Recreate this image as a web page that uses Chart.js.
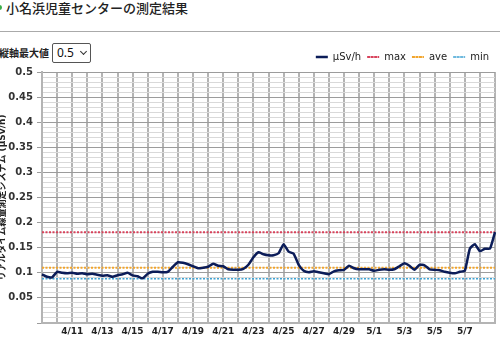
<!DOCTYPE html>
<html lang="ja">
<head>
<meta charset="utf-8">
<script src="https://cdn.jsdelivr.net/npm/chart.js@4"></script>
<style>
  body { margin: 0; width: 500px; height: 340px; overflow: hidden; background: #fff; position: relative;
         font-family: 'Noto Sans CJK JP', 'DejaVu Sans', sans-serif; color: #222; }
  .dot { position: absolute; left: -3px; top: 5px; width: 5px; height: 5px; border-radius: 50%; background: #3cae4a; }
  h1 { position: absolute; left: 6px; top: -2px; margin: 0; font-size: 13px; font-weight: 500; line-height: 20px; }
  .rule { position: absolute; left: 0; top: 31px; width: 500px; height: 1px; background: #aaa; }
  .lbl { position: absolute; left: -1px; top: 46px; font-size: 10px; font-weight: bold; line-height: 13px; }
  .sel { position: absolute; left: 52px; top: 43px; width: 37px; height: 18px; border: 1px solid #555; border-radius: 2px;
         font: 12px 'Noto Sans', sans-serif; line-height: 18px; color: #111; }
  .sel span { position: absolute; left: 4px; }
  .sel i { position: absolute; left: 28px; top: 5px; width: 4px; height: 4px; border-right: 1px solid #333;
           border-bottom: 1px solid #333; transform: rotate(45deg); }
  #wrap { position: absolute; left: -6px; top: 40px; width: 506px; height: 300px; }
</style>
</head>
<body>
<div class="dot"></div>
<h1>小名浜児童センターの測定結果</h1>
<div class="rule"></div>
<div class="lbl">縦軸最大値</div>
<div class="sel"><span>0.5</span><i></i></div>
<div id="wrap"><canvas id="chart"></canvas></div>
<script>
// dates and reading times (3 readings a day)
const days = ['4/9','4/10','4/11','4/12','4/13','4/14','4/15','4/16','4/17','4/18','4/19','4/20','4/21','4/22',
    '4/23','4/24','4/25','4/26','4/27','4/28','4/29','4/30','5/1','5/2','5/3','5/4','5/5','5/6','5/7','5/8','5/9'];
const hours = ['0時', '8時', '16時'];

// μSv/h readings
const dose = [0.097,0.092,0.091,0.102,0.100,0.099,0.100,0.098,0.099,0.097,
    0.098,0.096,0.094,0.095,0.092,0.095,0.097,0.100,0.095,0.093,
    0.089,0.098,0.102,0.102,0.101,0.102,0.112,0.121,0.120,0.117,
    0.113,0.109,0.110,0.112,0.118,0.114,0.113,0.107,0.106,0.106,
    0.108,0.116,0.131,0.141,0.137,0.135,0.135,0.139,0.157,0.142,
    0.138,0.116,0.104,0.101,0.103,0.101,0.099,0.097,0.103,0.105,
    0.106,0.114,0.109,0.107,0.107,0.107,0.104,0.106,0.107,0.106,
    0.107,0.113,0.119,0.114,0.106,0.116,0.115,0.107,0.106,0.105,
    0.102,0.100,0.099,0.102,0.104,0.148,0.157,0.143,0.148,0.148,
    0.181];

const maxValue = 0.181;
const aveValue = 0.110;
const minValue = 0.088;

const labels = [];
days.forEach(d => hours.forEach(h => labels.push(d + ' ' + h)));
labels.length = dose.length;

const flat = v => labels.map(() => v);

const tickFont = { family: "'DejaVu Sans', sans-serif", size: 10, weight: 'bold' };

new Chart(document.querySelector('#chart').getContext('2d'), {
    type: 'line',
    data: {
        labels: labels,
        datasets: [
            { label: 'μSv/h', data: dose, borderColor: '#0b1c58', backgroundColor: '#0b1c58', borderWidth: 2.5, pointRadius: 0, tension: 0.15 },
            { label: 'max', data: flat(maxValue), borderColor: '#d8435c', backgroundColor: 'rgba(0,0,0,0)', borderWidth: 2, borderDash: [2, 1.5], pointRadius: 0 },
            { label: 'ave', data: flat(aveValue), borderColor: '#f2a52c', backgroundColor: 'rgba(0,0,0,0)', borderWidth: 2, borderDash: [2, 1.5], pointRadius: 0 },
            { label: 'min', data: flat(minValue), borderColor: '#3fa3d3', backgroundColor: 'rgba(0,0,0,0)', borderWidth: 1.5, borderDash: [2, 1.5], pointRadius: 0 }
        ]
    },
    options: {
        responsive: true,
        maintainAspectRatio: false,
        animation: false,
        layout: { padding: { top: 6, right: 5, left: 0, bottom: 0 } },
        plugins: {
            tooltip: { enabled: false },
            legend: {
                position: 'top',
                align: 'end',
                labels: {
                    boxWidth: 12,
                    boxHeight: 0,
                    padding: 6,
                    color: '#222',
                    font: { family: "'DejaVu Sans', sans-serif", size: 10 }
                }
            }
        },
        scales: {
            x: {
                afterFit: s => { s.height = 17; },
                grid: {
                    drawTicks: false,
                    lineWidth: 2,
                    color: c => c.index % 3 === 0 ? '#b4b4b4' : 'rgba(0,0,0,0)'
                },
                border: { color: '#b4b4b4', width: 2 },
                ticks: {
                    autoSkip: false,
                    maxRotation: 0,
                    minRotation: 0,
                    padding: 3,
                    color: '#222',
                    font: { family: "'DejaVu Sans', sans-serif", size: 9, weight: 'bold' },
                    callback: function (v, i) {
                        if (i % 6 !== 0 || i === 0 || i >= 90) return '';
                        return this.getLabelForValue(v).split(' ')[0];
                    }
                }
            },
            y: {
                min: 0,
                max: 0.5,
                afterFit: s => { s.width = 48; },
                border: { color: '#b4b4b4', width: 2 },
                grid: {
                    tickLength: 5,
                    color: c => Math.round(c.tick.value * 100) % 5 === 0 ? '#9c9c9c' : '#d9d9d9',
                    tickColor: c => Math.round(c.tick.value * 100) % 5 === 0 ? '#9c9c9c' : 'rgba(0,0,0,0)'
                },
                ticks: {
                    stepSize: 0.01,
                    autoSkip: false,
                    padding: 4,
                    color: '#333',
                    font: tickFont,
                    callback: v => {
                        const n = Math.round(v * 100);
                        if (n === 0 || n % 5 !== 0) return '';
                        return String(n / 100);
                    }
                },
                title: {
                    display: true,
                    text: 'リアルタイム線量測定システム (μSv/h)',
                    color: '#222',
                    padding: { top: 3, bottom: 0 },
                    font: { family: "'DejaVu Sans', 'Noto Sans CJK JP', sans-serif", size: 9, weight: 'bold' }
                }
            }
        }
    }
});
</script>
</body>
</html>
